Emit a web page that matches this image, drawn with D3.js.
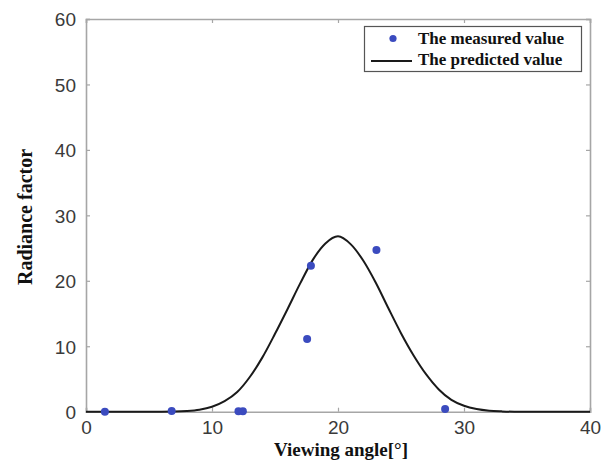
<html>
<script src="https://d3js.org/d3.v7.min.js"></script>
<body style="margin:0;background:white">
<svg height="463" width="608" id="chart"></svg>
<script>

// measured points
var measuredAngle = [1.5, 6.8, 12.1, 12.45, 17.55, 17.85, 23.05, 28.5];
var measuredValue = [0, 0.1, 0.05, 0.05, 11.1, 22.3, 24.7, 0.4];

// predicted curve, read at whole degrees
var predictedAngle = [0,1,2,3,4,5,6,7,8,9,10,11,12,13,14,15,16,17,18,19,20,
  21,22,23,24,25,26,27,28,29,30,31,32,33,34,35,36,37,38,39,40];
var predictedValue = [0,0,0,0,0,0,0,0.02,0.1,0.3,0.75,1.6,3.0,5.3,8.3,11.9,15.7,19.6,23.2,25.7,26.8,
  25.6,23.1,19.7,15.8,12.0,8.6,5.7,3.4,1.8,0.9,0.4,0.15,0.05,0,0,0,0,0,0,0];

var xTicks = [0, 10, 20, 30, 40];
var yTicks = [0, 10, 20, 30, 40, 50, 60];
var legendLabels = ["The measured value", "The predicted value"];

var svg = d3.select("#chart");

// plot box edges (px)
var boxL = 86, boxR = 590, boxT = 19, boxB = 411.7;

var x = d3.scaleLinear().domain([0, 40]).range([boxL, boxR]);
var y = d3.scaleLinear().domain([0, 60]).range([boxB, boxT]);

var axisColor = "#a6a6a6";
var tickFont = "'Liberation Sans', Arial, sans-serif";
var serif = "'Liberation Serif', 'Times New Roman', serif";

// bottom / left axes, ticks pointing inward
var xAxis = svg.append("g")
  .attr("transform", "translate(0," + boxB + ")")
  .call(d3.axisBottom(x).tickValues(xTicks).tickSize(-4).tickPadding(9));
var yAxis = svg.append("g")
  .attr("transform", "translate(" + boxL + ",0)")
  .call(d3.axisLeft(y).tickValues(yTicks).tickSize(-4).tickPadding(10));
// top / right box sides with ticks, no labels
var xTop = svg.append("g")
  .attr("transform", "translate(0," + boxT + ")")
  .call(d3.axisTop(x).tickValues(xTicks).tickSize(-4).tickFormat(""));
var yRight = svg.append("g")
  .attr("transform", "translate(" + boxR + ",0)")
  .call(d3.axisRight(y).tickValues(yTicks).tickSize(-4).tickFormat(""));

[xAxis, yAxis, xTop, yRight].forEach(function (g) {
  g.select(".domain").attr("stroke", axisColor).attr("stroke-width", 1.6);
  g.selectAll(".tick line").attr("stroke", axisColor).attr("stroke-width", 1.2);
  g.selectAll(".tick text")
    .attr("fill", "#3a3a3a")
    .style("font-family", tickFont)
    .style("font-size", "19px");
});
yAxis.selectAll(".tick text").attr("dy", "0.36em");

// predicted curve
var curveData = predictedAngle.map(function (a, i) { return [a, predictedValue[i]]; });
var line = d3.line()
  .x(function (d) { return x(d[0]); })
  .y(function (d) { return y(d[1]); })
  .curve(d3.curveMonotoneX);

svg.append("path")
  .datum(curveData)
  .attr("d", line)
  .attr("fill", "none")
  .attr("stroke", "#1a1a1a")
  .attr("stroke-width", 2);

// measured points
var pts = measuredAngle.map(function (a, i) { return [a, measuredValue[i]]; });
svg.selectAll(".pt")
  .data(pts)
  .enter().append("circle")
  .attr("class", "pt")
  .attr("cx", function (d) { return x(d[0]); })
  .attr("cy", function (d) { return y(d[1]); })
  .attr("r", 4)
  .attr("fill", "#3b4bbf");

// axis titles
svg.append("text")
  .attr("x", 341)
  .attr("y", 456)
  .attr("text-anchor", "middle")
  .style("font-family", serif)
  .style("font-weight", "bold")
  .style("font-size", "19px")
  .attr("fill", "#111")
  .text("Viewing angle[\u00b0]");

svg.append("text")
  .attr("transform", "translate(32,217) rotate(-90)")
  .attr("text-anchor", "middle")
  .style("font-family", serif)
  .style("font-weight", "bold")
  .style("font-size", "20px")
  .attr("fill", "#111")
  .text("Radiance factor");

// legend
var legend = svg.append("g");
legend.append("rect")
  .attr("x", 364.5).attr("y", 26.5)
  .attr("width", 217).attr("height", 45)
  .attr("fill", "white")
  .attr("stroke", "#555")
  .attr("stroke-width", 1.2);

legend.append("circle")
  .attr("cx", 393).attr("cy", 38.5).attr("r", 3.6)
  .attr("fill", "#3b4bbf");
legend.append("line")
  .attr("x1", 371).attr("x2", 412)
  .attr("y1", 61).attr("y2", 61)
  .attr("stroke", "#1a1a1a").attr("stroke-width", 2);

legend.selectAll(".lbl")
  .data(legendLabels)
  .enter().append("text")
  .attr("class", "lbl")
  .attr("x", 418)
  .attr("y", function (d, i) { return 43.5 + i * 21; })
  .style("font-family", serif)
  .style("font-weight", "bold")
  .style("font-size", "17px")
  .attr("fill", "#111")
  .text(function (d) { return d; });

</script>
</body>
</html>
